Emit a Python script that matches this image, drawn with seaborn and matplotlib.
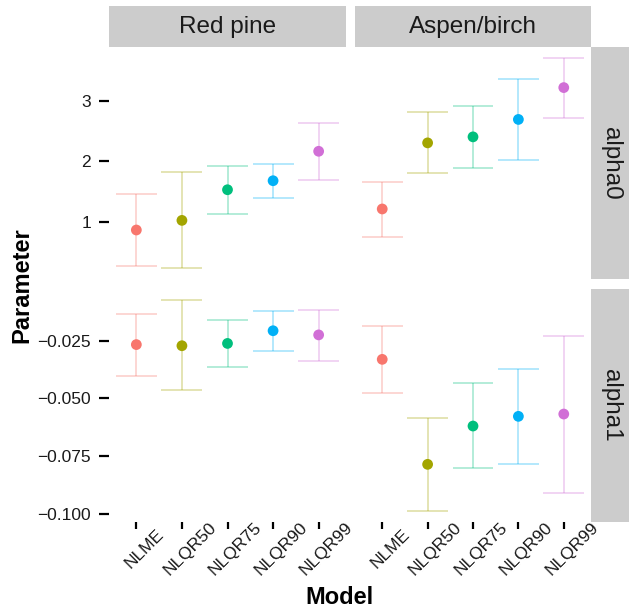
import numpy as np
import pandas as pd
import seaborn as sns
import matplotlib.pyplot as plt
from matplotlib.patches import Rectangle
from matplotlib.transforms import ScaledTranslation

models = ["NLME", "NLQR50", "NLQR75", "NLQR90", "NLQR99"]
species = ["Red pine", "Aspen/birch"]
params = ["alpha0", "alpha1"]

redpine_alpha0_est = [0.86, 1.02, 1.53, 1.68, 2.17]
redpine_alpha0_lo = [0.26, 0.22, 1.12, 1.39, 1.70]
redpine_alpha0_hi = [1.46, 1.82, 1.92, 1.96, 2.64]
aspen_alpha0_est = [1.21, 2.31, 2.41, 2.70, 3.23]
aspen_alpha0_lo = [0.745, 1.81, 1.895, 2.03, 2.72]
aspen_alpha0_hi = [1.66, 2.82, 2.92, 3.37, 3.73]

redpine_alpha1_est = [-0.0267, -0.0272, -0.0262, -0.0207, -0.0225]
redpine_alpha1_lo = [-0.0402, -0.0465, -0.0363, -0.0293, -0.0340]
redpine_alpha1_hi = [-0.0134, -0.0072, -0.0160, -0.0120, -0.0116]
aspen_alpha1_est = [-0.0331, -0.0786, -0.0620, -0.0578, -0.0568]
aspen_alpha1_lo = [-0.0477, -0.0990, -0.0804, -0.0786, -0.0909]
aspen_alpha1_hi = [-0.0185, -0.0587, -0.0435, -0.0371, -0.0228]

alpha0_ticks = [1, 2, 3]
alpha1_ticks = [-0.025, -0.050, -0.075, -0.100]

colors = ["#F8766D", "#A3A500", "#00BF7D", "#00B0F6", "#D16FD6"]

series = {
    ("Red pine", "alpha0"): (redpine_alpha0_est, redpine_alpha0_lo, redpine_alpha0_hi),
    ("Aspen/birch", "alpha0"): (aspen_alpha0_est, aspen_alpha0_lo, aspen_alpha0_hi),
    ("Red pine", "alpha1"): (redpine_alpha1_est, redpine_alpha1_lo, redpine_alpha1_hi),
    ("Aspen/birch", "alpha1"): (aspen_alpha1_est, aspen_alpha1_lo, aspen_alpha1_hi),
}
rows = []
for (sp, pa), (est, lo, hi) in series.items():
    for m, e, l, h in zip(models, est, lo, hi):
        rows.append(dict(Species=sp, Param=pa, Model=m, est=e, lo=l, hi=h))
df = pd.DataFrame(rows)

sns.set_theme(style="white")
plt.rcParams["font.family"] = ["Liberation Sans", "DejaVu Sans"]

W, H = 629, 610
fig = plt.figure(figsize=(W / 100, H / 100), dpi=100)

col_x = [(109, 346), (355, 591)]
row_y = [(47, 279), (289, 522)]
strip_top = (6, 47)
strip_right = (591, 629)

def fx(px):
    return px / W

def fy(py):
    return 1 - py / H

palette = dict(zip(models, colors))
xpos = np.arange(len(models))

for r, pa in enumerate(params):
    rowdf = df[df.Param == pa]
    lo_all, hi_all = rowdf.lo.min(), rowdf.hi.max()
    pad = (hi_all - lo_all) * 0.05
    ylim = (lo_all - pad, hi_all + pad)
    for c, sp in enumerate(species):
        x0, x1 = col_x[c]
        y0, y1 = row_y[r]
        ax = fig.add_axes([fx(x0), fy(y1), fx(x1) - fx(x0), fy(y0) - fy(y1)])
        sub = rowdf[rowdf.Species == sp].set_index("Model").loc[models].reset_index()
        for i, m in enumerate(models):
            col = palette[m]
            ax.vlines(xpos[i], sub.lo[i], sub.hi[i], color=col, alpha=0.35, lw=1.2, zorder=1)
            ax.hlines([sub.lo[i], sub.hi[i]], xpos[i] - 0.45, xpos[i] + 0.45,
                      color=col, alpha=0.35, lw=1.2, zorder=1)
        sns.scatterplot(data=sub, x="Model", y="est", hue="Model", hue_order=models,
                        palette=palette, s=60, edgecolor="none", legend=False,
                        ax=ax, zorder=3)
        ax.set_xlim(-0.6, len(models) - 0.4)
        ax.set_ylim(*ylim)
        ax.set_xlabel("")
        ax.set_ylabel("")
        for s in ax.spines.values():
            s.set_visible(False)
        ax.set_facecolor("white")
        if c == 0:
            ticks = alpha0_ticks if pa == "alpha0" else alpha1_ticks
            if pa == "alpha0":
                labs = [f"{t:g}" for t in ticks]
            else:
                labs = [f"{t:.3f}".replace("-", "\u2212") for t in ticks]
            ax.set_yticks(ticks, labels=labs)
            ax.tick_params(axis="y", left=True, length=7, width=1.6, color="black",
                           pad=6, labelsize=12.5, labelcolor="#1a1a1a")
        else:
            ax.set_yticks([])
        if r == 1:
            ax.set_xticks(xpos, labels=models)
            ax.tick_params(axis="x", bottom=True, length=5, width=1.6, color="black",
                           pad=14, labelsize=12.5, labelcolor="#1a1a1a")
            off = ScaledTranslation(8 / 100, 0, fig.dpi_scale_trans)
            for lbl in ax.get_xticklabels():
                lbl.set_rotation(45)
                lbl.set_ha("center")
                lbl.set_va("center")
                lbl.set_rotation_mode("anchor")
                lbl.set_transform(lbl.get_transform() + off)
        else:
            ax.set_xticks([])

strip_color = "#CCCCCC"
for c, sp in enumerate(species):
    x0, x1 = col_x[c]
    fig.patches.append(Rectangle((fx(x0), fy(strip_top[1])), fx(x1) - fx(x0),
                                 fy(strip_top[0]) - fy(strip_top[1]),
                                 transform=fig.transFigure, facecolor=strip_color,
                                 edgecolor="none"))
    fig.text(fx((x0 + x1) / 2), fy(sum(strip_top) / 2), sp, ha="center", va="center",
             fontsize=17.5, color="#1a1a1a")
for r, pa in enumerate(params):
    y0, y1 = row_y[r]
    fig.patches.append(Rectangle((fx(strip_right[0]), fy(y1)), fx(strip_right[1]) - fx(strip_right[0]),
                                 fy(y0) - fy(y1), transform=fig.transFigure,
                                 facecolor=strip_color, edgecolor="none"))
    fig.text(fx(sum(strip_right) / 2 + 1), fy((y0 + y1) / 2), pa, ha="center", va="center",
             rotation=-90, fontsize=17.5, color="#1a1a1a")

fig.text(fx(22), fy(285), "Parameter", rotation=90, ha="center", va="center",
         fontsize=17, fontweight="bold", color="black")
fig.text(fx(339), fy(597), "Model", ha="center", va="center",
         fontsize=17, fontweight="bold", color="black")

fig.savefig("out.png", dpi=100, facecolor="white")
